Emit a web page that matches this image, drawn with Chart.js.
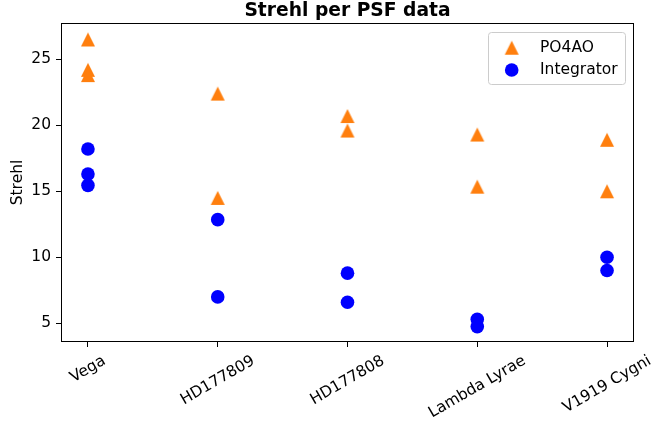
<!DOCTYPE html>
<html>
<head>
<meta charset="utf-8">
<script src="https://cdn.jsdelivr.net/npm/chart.js@4.4.0/dist/chart.umd.min.js"></script>
<style>
  html, body { margin: 0; padding: 0; background: #fff; }
</style>
</head>
<body>
<canvas id="strehl-chart" width="652" height="429"></canvas>
<script>
// values
var targets = ["Vega", "HD177809", "HD177808", "Lambda Lyrae", "V1919 Cygni"];
var po4aoStrehl = [[26.5, 24.2, 23.8], [22.4, 14.5], [20.7, 19.6], [19.3, 15.35], [18.9, 15.0]];
var integratorStrehl = [[18.2, 16.3, 15.45], [12.85, 7.0], [8.8, 6.6], [5.3, 4.75], [10.0, 9.0]];
var yTicks = [5, 10, 15, 20, 25];

var FONT = "DejaVu Sans";
var ORANGE = "#ff7f0e";
var BLUE = "#0000ff";

function toPoints(groups) {
    var pts = [];
    groups.forEach(function(vals, i) {
        vals.forEach(function(v) { pts.push({ x: i, y: v }); });
    });
    return pts;
}

// matplotlib style "^" marker: box centred on the point
function triangleMarker(color, size) {
    var c = document.createElement("canvas");
    c.width = size + 2;
    c.height = size + 2;
    var g = c.getContext("2d");
    g.fillStyle = color;
    g.beginPath();
    g.moveTo(c.width / 2, 1);
    g.lineTo(1, size + 1);
    g.lineTo(size + 1, size + 1);
    g.closePath();
    g.fill();
    return c;
}
var triangle = triangleMarker(ORANGE, 14);

var decor = {
    id: "decor",
    afterDraw: function(chart) {
        var ctx = chart.ctx;
        var a = chart.chartArea;
        var xs = chart.scales.x;
        ctx.save();

        // frame
        ctx.strokeStyle = "#000";
        ctx.lineWidth = 1;
        ctx.strokeRect(Math.round(a.left) - 0.5, Math.round(a.top) - 0.5,
            Math.round(a.right - a.left) + 1, Math.round(a.bottom - a.top) + 1);

        ctx.fillStyle = "#000";

        // title
        ctx.font = "bold 18.7px '" + FONT + "'";
        ctx.textAlign = "center";
        ctx.textBaseline = "alphabetic";
        ctx.fillText("Strehl per PSF data", (a.left + a.right) / 2, 16);

        // y label
        ctx.font = "15.5px '" + FONT + "'";
        ctx.save();
        ctx.translate(21.7, (a.top + a.bottom) / 2);
        ctx.rotate(-Math.PI / 2);
        ctx.fillText("Strehl", 0, 0);
        ctx.restore();

        // x tick labels, rotated 30 deg, box centred under the tick
        var ang = Math.PI / 6;
        var h = 15.5 * 1.164;
        targets.forEach(function(name, i) {
            var x = xs.getPixelForValue(i);
            var w = ctx.measureText(name).width;
            var H = w * Math.sin(ang) + h * Math.cos(ang);
            var cy = a.bottom + 11 + H / 2;
            ctx.save();
            ctx.translate(x, cy);
            ctx.rotate(-ang);
            ctx.textAlign = "center";
            ctx.textBaseline = "middle";
            ctx.fillText(name, 0, 0);
            ctx.restore();
        });

        // legend
        var lx = 488, ly = 32, lw = 137, lh = 52;
        ctx.beginPath();
        ctx.roundRect(lx + 0.5, ly + 0.5, lw, lh, 3);
        ctx.fillStyle = "rgba(255,255,255,0.8)";
        ctx.fill();
        ctx.strokeStyle = "#cccccc";
        ctx.stroke();
        ctx.drawImage(triangle, 511.7 - triangle.width / 2, 47.7 - triangle.height / 2);
        ctx.beginPath();
        ctx.arc(511.7, 70, 6.8, 0, Math.PI * 2);
        ctx.fillStyle = BLUE;
        ctx.fill();
        ctx.fillStyle = "#000";
        ctx.textAlign = "left";
        ctx.textBaseline = "middle";
        ctx.fillText(chart.data.datasets[0].label, 540, 47.7);
        ctx.fillText(chart.data.datasets[1].label, 540, 70);

        ctx.restore();
    }
};

new Chart(document.getElementById("strehl-chart"), {
    type: "scatter",
    data: {
        datasets: [
            {
                label: "PO4AO",
                data: toPoints(po4aoStrehl),
                pointStyle: triangle,
                pointRadius: 7,
                backgroundColor: ORANGE,
                borderWidth: 0
            },
            {
                label: "Integrator",
                data: toPoints(integratorStrehl),
                pointStyle: "circle",
                pointRadius: 6.8,
                backgroundColor: BLUE,
                borderColor: BLUE,
                borderWidth: 0
            }
        ]
    },
    options: {
        responsive: false,
        animation: false,
        devicePixelRatio: 1,
        layout: { padding: { top: 24, right: 19, left: 0, bottom: 0 } },
        plugins: {
            legend: { display: false },
            tooltip: { enabled: false },
            title: { display: false }
        },
        scales: {
            x: {
                type: "linear",
                min: -0.2,
                max: 4.2,
                afterBuildTicks: function(s) {
                    s.ticks = targets.map(function(_, i) { return { value: i }; });
                },
                afterFit: function(s) { s.height = 88; },
                ticks: { display: false },
                grid: { drawOnChartArea: false, drawTicks: true, tickLength: 6, color: "#000", lineWidth: 1 },
                border: { display: false }
            },
            y: {
                min: 3.66,
                max: 27.67,
                afterBuildTicks: function(s) {
                    s.ticks = yTicks.map(function(v) { return { value: v }; });
                },
                afterFit: function(s) { s.width = 62; },
                ticks: { padding: 5, color: "#000", font: { family: FONT, size: 15.5 } },
                grid: { drawOnChartArea: false, drawTicks: true, tickLength: 6, color: "#000", lineWidth: 1 },
                border: { display: false }
            }
        }
    },
    plugins: [decor]
});
</script>
</body>
</html>
